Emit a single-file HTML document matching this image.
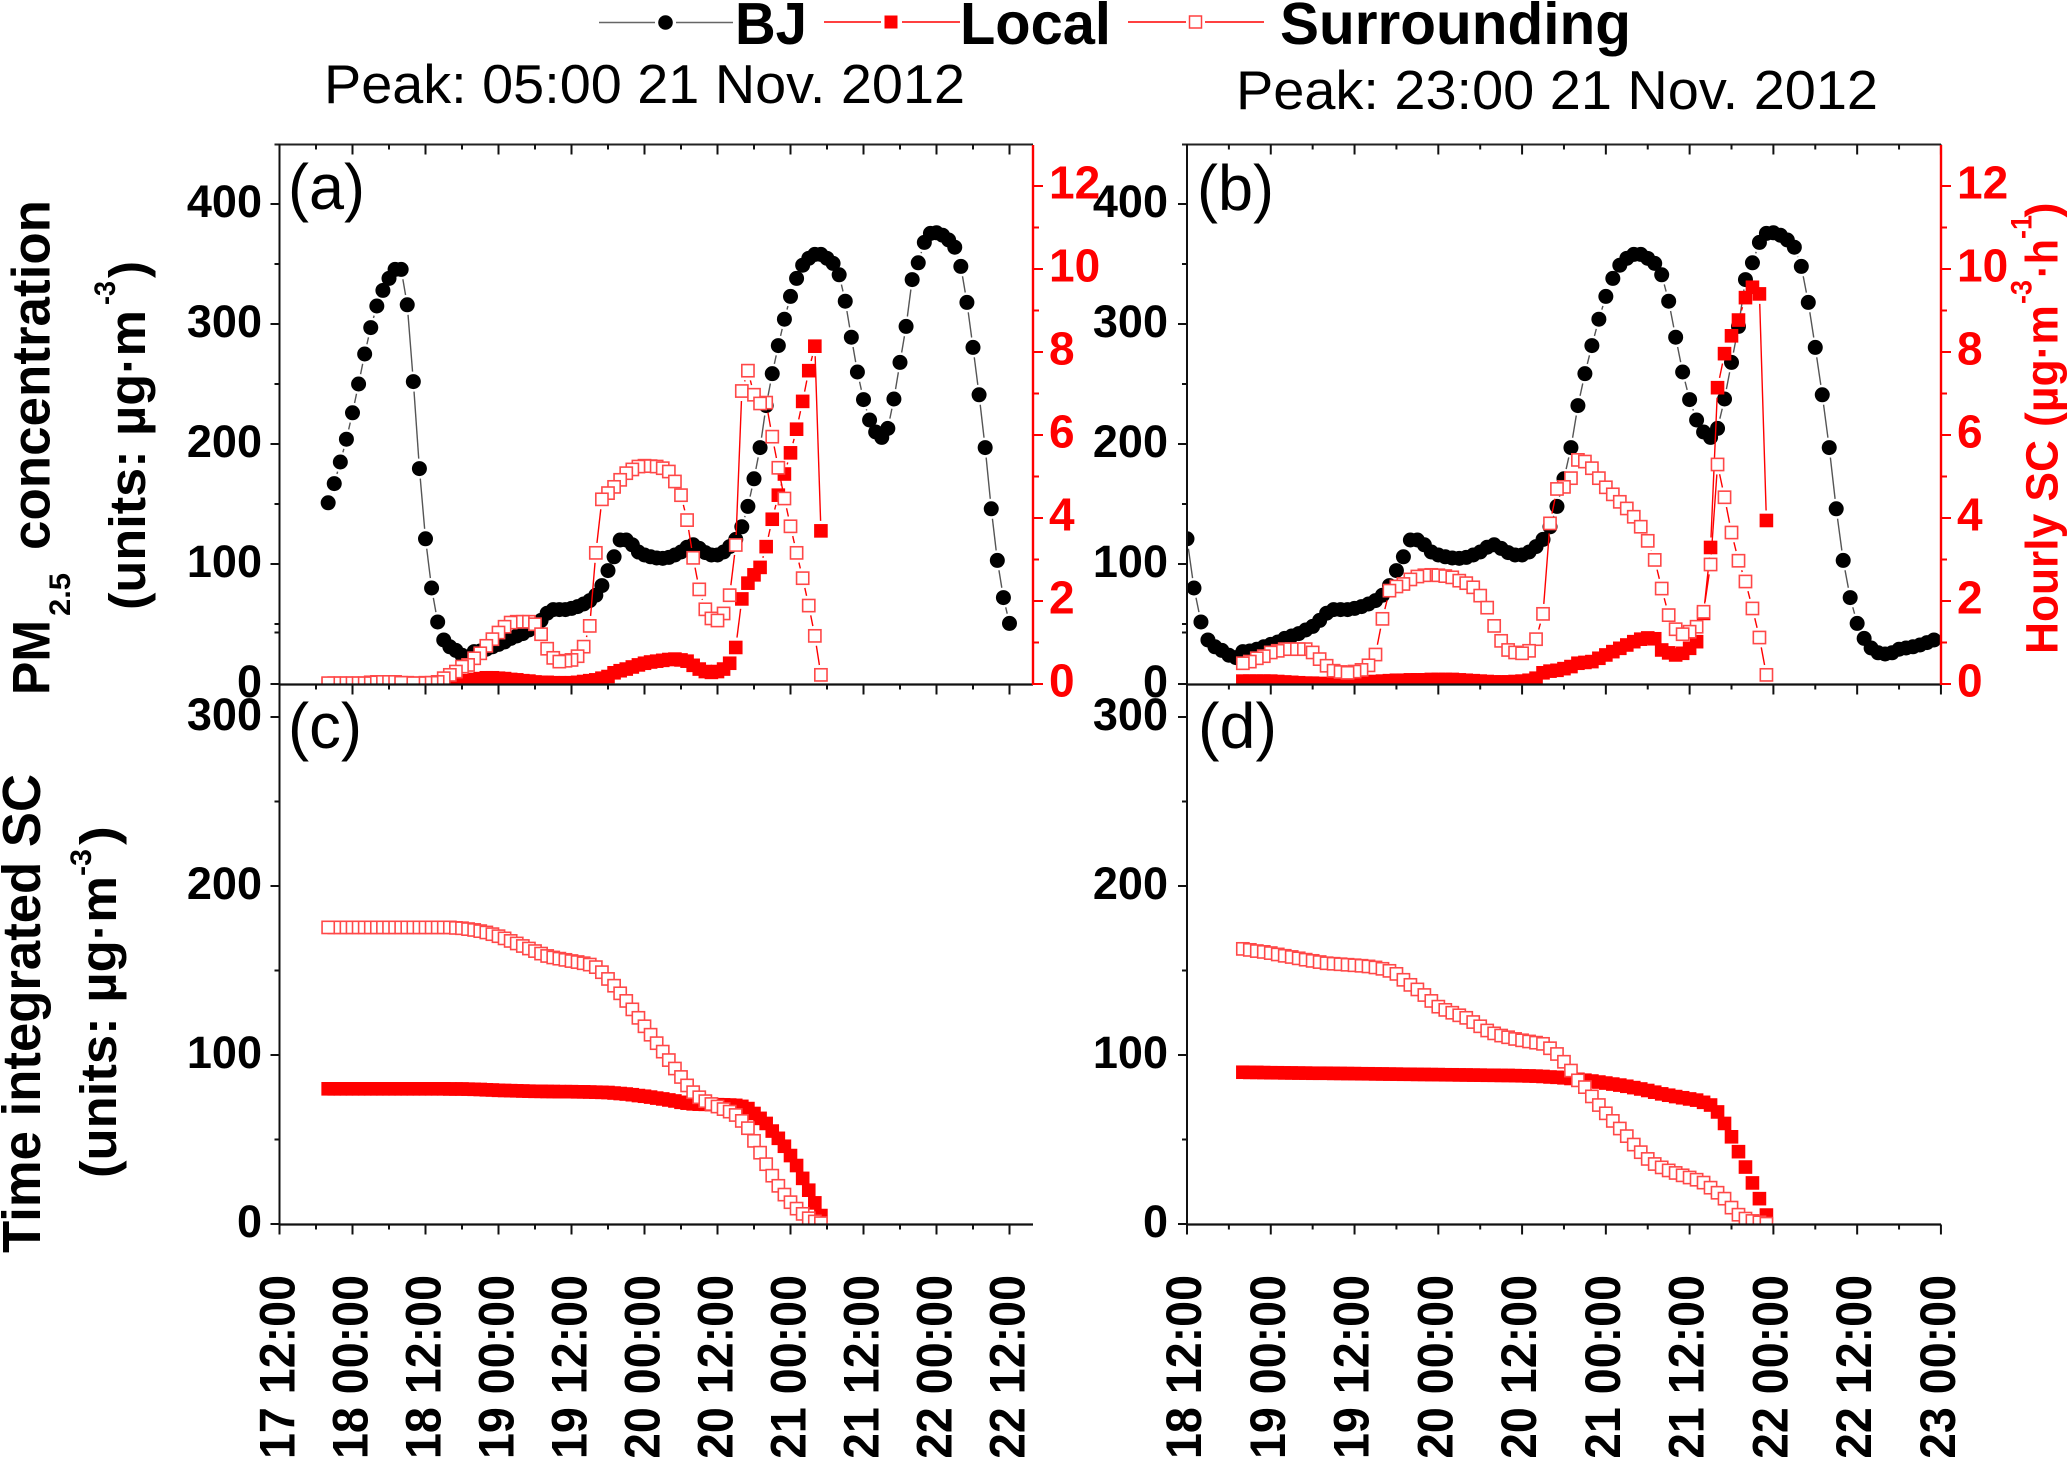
<!DOCTYPE html>
<html lang="en">
<head>
<meta charset="utf-8">
<title>PM2.5 concentration and source contribution</title>
<style>
html,body{margin:0;padding:0;background:#fff;width:2067px;height:1457px;overflow:hidden}
svg{display:block}
text{font-family:"Liberation Sans",Arial,sans-serif}
.b{font-weight:bold}
</style>
</head>
<body>
<svg id="chart" xmlns="http://www.w3.org/2000/svg" width="2067" height="1457" viewBox="0 0 2067 1457">
<defs>
<clipPath id="clip-a"><rect x="279" y="145" width="754" height="539"/></clipPath>
<clipPath id="clip-b"><rect x="1187" y="145" width="754" height="539"/></clipPath>
<clipPath id="clip-c"><rect x="279" y="685" width="754" height="539"/></clipPath>
<clipPath id="clip-d"><rect x="1187" y="685" width="754" height="539"/></clipPath>
</defs>
<rect x="0" y="0" width="2067" height="1457" fill="#fff"/>

<g>
  <g>
    <line x1="599" y1="22.5" x2="655" y2="22.5" stroke="#666" stroke-width="1.6"/>
    <line x1="676" y1="22.5" x2="733" y2="22.5" stroke="#666" stroke-width="1.6"/>
    <circle cx="665.5" cy="22.5" r="7.3" fill="#000"/>
    <text class="b" x="735" y="44" font-size="59" textLength="72" lengthAdjust="spacingAndGlyphs">BJ</text>
  </g>
  <g>
    <line x1="824" y1="22" x2="881" y2="22" stroke="#f00" stroke-width="1.6"/>
    <line x1="902" y1="22" x2="960" y2="22" stroke="#f00" stroke-width="1.6"/>
    <rect x="884.5" y="15.5" width="13" height="13" fill="#f00"/>
    <text class="b" x="960" y="44" font-size="59" textLength="151" lengthAdjust="spacingAndGlyphs">Local</text>
  </g>
  <g>
    <line x1="1128" y1="22" x2="1186" y2="22" stroke="#f00" stroke-width="1.6"/>
    <line x1="1205" y1="22" x2="1264" y2="22" stroke="#f00" stroke-width="1.6"/>
    <rect x="1189.5" y="16" width="12" height="12" fill="#fff" stroke="#ff4040" stroke-width="1.5"/>
    <text class="b" x="1280" y="44" font-size="59" textLength="351" lengthAdjust="spacingAndGlyphs">Surrounding</text>
  </g>
</g>

<text x="324" y="103" font-size="55" textLength="641" lengthAdjust="spacingAndGlyphs">Peak: 05:00 21 Nov. 2012</text>
<text x="1236" y="109" font-size="55" textLength="642" lengthAdjust="spacingAndGlyphs">Peak: 23:00 21 Nov. 2012</text>

<g id="panel-a"></g>
<g id="panel-b"></g>
<g id="panel-c"></g>
<g id="panel-d"></g>

<text x="288" y="209" font-size="64" textLength="77" lengthAdjust="spacingAndGlyphs">(a)</text>
<text x="1197" y="210" font-size="64" textLength="77" lengthAdjust="spacingAndGlyphs">(b)</text>
<text x="288" y="748" font-size="64" textLength="74" lengthAdjust="spacingAndGlyphs">(c)</text>
<text x="1198" y="748" font-size="64" textLength="79" lengthAdjust="spacingAndGlyphs">(d)</text>

<g>
  <text class="b" transform="translate(49.5,695) rotate(-90)" font-size="53" textLength="75" lengthAdjust="spacingAndGlyphs">PM</text>
  <text class="b" transform="translate(70,616) rotate(-90)" font-size="30" textLength="43" lengthAdjust="spacingAndGlyphs">2.5</text>
  <text class="b" transform="translate(49.5,550) rotate(-90)" font-size="54" textLength="350" lengthAdjust="spacingAndGlyphs">concentration</text>
  <text class="b" transform="translate(145,610) rotate(-90)" font-size="51" textLength="300" lengthAdjust="spacingAndGlyphs">(units: µg·m</text>
  <text class="b" transform="translate(115,305) rotate(-90)" font-size="30" textLength="24" lengthAdjust="spacingAndGlyphs">-3</text>
  <text class="b" transform="translate(145,278) rotate(-90)" font-size="51" textLength="17" lengthAdjust="spacingAndGlyphs">)</text>
</g>
<g>
  <text class="b" transform="translate(40,1253) rotate(-90)" font-size="54" textLength="479" lengthAdjust="spacingAndGlyphs">Time integrated SC</text>
  <text class="b" transform="translate(116,1178) rotate(-90)" font-size="51" textLength="302" lengthAdjust="spacingAndGlyphs">(units: µg·m</text>
  <text class="b" transform="translate(91,876) rotate(-90)" font-size="30" textLength="27" lengthAdjust="spacingAndGlyphs">-3</text>
  <text class="b" transform="translate(116,845) rotate(-90)" font-size="51" textLength="19" lengthAdjust="spacingAndGlyphs">)</text>
</g>
<g fill="#f00">
  <text class="b" transform="translate(2057.7,654) rotate(-90)" font-size="45" textLength="214" lengthAdjust="spacingAndGlyphs">Hourly SC</text>
  <text class="b" transform="translate(2057.7,427) rotate(-90)" font-size="45" textLength="122" lengthAdjust="spacingAndGlyphs">(µg·m</text>
  <text class="b" transform="translate(2031.7,304) rotate(-90)" font-size="30" textLength="24" lengthAdjust="spacingAndGlyphs">-3</text>
  <text class="b" transform="translate(2057.7,278) rotate(-90)" font-size="45" textLength="39" lengthAdjust="spacingAndGlyphs">·h</text>
  <text class="b" transform="translate(2031.7,239) rotate(-90)" font-size="30" textLength="24" lengthAdjust="spacingAndGlyphs">-1</text>
  <text class="b" transform="translate(2057.7,217.5) rotate(-90)" font-size="45" textLength="15" lengthAdjust="spacingAndGlyphs">)</text>
</g>
</svg>

<script>
// ---- hours are counted from 17 Nov 12:00 ----
const bjStartHour = 8;
const bjValues = [151,167,185,204,226,250,275,297,315,328,
338,345.5,345.5,316,252,179.5,121,80,51.7,36.7,
31,28,24,22,27,27.5,29,31,33,35,
38,40,42,45,48,53,59,62,62,62,
63,64.5,66.7,69.5,74,82,94.5,106,120,120,
116,110,107.5,106,105,104.7,105.5,107.5,110,114,
116,113,109.5,107.5,107.5,110,114.5,120.5,131,148,
171,197,232,258.6,282,304,323,338,349,354.7,
358,358,354.7,350.5,341,319,289,260,237,220,
210,205.5,213,237.5,268,298,337,351,368,375.5,
376,374,370,364,348,318,280.5,241,197,146,
103,72,50.5,38,30,26,25,26,29,30,
31,32.5,34.5,36.7];

const startHourA = 8;
const hourlyLocalA = [0,0,0,0,0,0,0,0,0,0,0,0,0,0,0,0,0,0,0,0,
.01,.03,.05,.08,.11,.13,.15,.15,.14,.13,.11,.1,.08,.07,.05,.04,.04,.03,.03,.03,
.03,.04,.06,.08,.1,.14,.18,.27,.32,.36,.41,.46,.5,.53,.55,.57,.59,.6,.58,.55,
.45,.36,.3,.28,.3,.36,.5,.88,2.05,2.43,2.63,2.81,3.31,3.97,4.55,5.06,5.57,6.14,6.81,7.55,8.14,3.69];
const hourlySurroundingA = [.02,.02,.02,.02,.02,.02,.02,.04,.05,.05,.05,.05,.03,.03,.02,.02,.03,.03,.05,
.14,.22,.3,.42,.46,.62,.74,.92,1.08,1.24,1.38,1.48,1.5,1.5,1.5,1.44,1.2,.85,.63,.54,.56,.58,.67,.9,1.4,
3.16,4.45,4.6,4.75,4.92,5.08,5.17,5.24,5.26,5.25,5.24,5.2,5.12,4.88,4.55,3.95,3.04,2.28,1.8,1.58,1.53,1.7,2.14,3.35,
7.06,7.55,6.97,6.76,6.78,5.96,5.21,4.47,3.8,3.16,2.55,1.89,1.16,.22];

const startHourB = 32;
const hourlyLocalB = [.07,.07,.07,.07,.07,.06,.05,.04,.03,.02,.02,.01,.01,.02,.02,.02,.03,.04,.05,.06,
.07,.08,.09,.09,.1,.1,.1,.11,.11,.11,.11,.1,.09,.08,.07,.06,.05,.05,.05,.06,
.07,.09,.14,.27,.31,.33,.37,.42,.5,.52,.54,.62,.7,.78,.86,.94,1.02,1.08,1.11,1.09,
.82,.75,.7,.74,.86,1.02,1.7,3.29,7.14,7.96,8.39,8.77,9.31,9.56,9.4,3.94];
const hourlySurroundingB = [.5,.54,.62,.67,.76,.8,.84,.84,.84,.84,.76,.6,.44,.32,.29,.27,.3,.34,.45,.71,
1.57,2.25,2.35,2.41,2.52,2.59,2.62,2.63,2.62,2.6,2.57,2.49,2.43,2.33,2.13,1.84,1.4,1.04,.82,.76,
.74,.8,1.08,1.69,3.87,4.7,4.75,4.96,5.4,5.36,5.2,4.96,4.74,4.57,4.39,4.23,4.03,3.79,3.45,2.99,
2.3,1.66,1.32,1.2,1.26,1.38,1.74,2.88,5.29,4.5,3.65,2.97,2.47,1.82,1.12,.22];

const integratedLocalC = [80,80,80,80,80,80,80,80,80,80,80,80,80,80,80,80,80,80,80,80,
79.9,79.9,79.9,79.8,79.7,79.6,79.4,79.3,79.1,79,78.9,78.8,78.7,78.6,78.5,78.5,78.4,78.4,78.3,78.3,
78.3,78.2,78.2,78.1,78,77.9,77.8,77.5,77.2,76.9,76.5,76,75.6,75.1,74.5,74,73.4,72.8,72,71.5,
71.1,70.9,70.8,70.7,70.6,70.5,70.4,70.2,69.6,68.3,65.4,62.5,59.5,55,50.7,46,40.5,34.6,27,20,12.5,5];
const integratedSurroundingC = [175.5,175.5,175.5,175.5,175.5,175.5,175.5,175.5,175.5,175.5,175.5,175.5,175.5,175.5,175.5,175.5,175.5,175.5,175.5,175.5,175.5,
175.2,175,174.5,174,173.3,172.5,171.5,170.3,169,167.5,166,164.5,163,161.5,160,158.6,157.7,157,156.3,
155.6,155,154.3,153.5,152,149,145,141,136.5,132,127,122,117,112,107,102,97,92,87,82,
78,75,72.7,71,69.5,68,66.5,64.5,61,56.7,49.2,42.2,35.4,28.6,22.6,17.4,12.9,9.1,6,3.4,1.5,.5];

const integratedLocalD = [89.8,89.7,89.7,89.6,89.5,89.5,89.4,89.4,89.3,
89.3,89.2,89.2,89.2,89.1,89.1,89,89,88.9,88.9,88.8,88.8,88.7,88.7,88.6,88.6,88.5,88.5,88.4,88.4,
88.3,88.3,88.2,88.2,88.1,88.1,88,88,87.9,87.9,87.8,87.7,87.6,87.5,87.3,
87,86.8,86.5,86.1,85.6,85.1,84.6,84,83.4,82.8,82.2,81.5,80.7,79.9,79,78,77,76.2,75.4,74.7,74,73.3,72,70.4,66.3,59.5,51.6,42.8,33.7,24.3,15,5.3];
const integratedSurroundingD = [162.8,162.2,161.5,161,160.3,159.5,158.7,158,157.2,156.4,155.7,155,154.3,154,153.7,153.4,153.1,152.8,152.4,151.8,151,149.8,148,
144.5,141.5,138.8,135.5,132,128.6,126.7,125,123.5,122,119.5,117,114.5,112.8,111.5,110.5,109.5,108.7,108,107.3,106.6,
104,100.6,96,90.8,85,81,75.5,70.4,65.5,61,56.5,52,47,42.5,38.5,35.5,33.5,31.7,30.2,28.8,27.5,26.2,24.5,21.5,18.5,15,9.7,5.5,3.2,1.8,1,.2];

const timeLabelsLeft = ["17 12:00","18 00:00","18 12:00","19 00:00","19 12:00","20 00:00","20 12:00","21 00:00","21 12:00","22 00:00","22 12:00"];
const timeLabelsRight = ["18 12:00","19 00:00","19 12:00","20 00:00","20 12:00","21 00:00","21 12:00","22 00:00","22 12:00","23 00:00"];
const pmTicks = [0,100,200,300,400];
const hourlyScTicks = [0,2,4,6,8,10,12];
const integratedTicks = [0,100,200,300];

// ---- scales ----
const xLeft  = h => 279.5 + h * 73 / 12;
const xRight = h => 1187 + (h - 24) * 83.77 / 12;
const yPm    = v => 684 - v * 1.2;
const ySc    = v => 684 - v * 41.5;
const yInt   = v => 1224 - v * 1.69;

const NS = "http://www.w3.org/2000/svg";
function make(tag, attrs, parent, text) {
  const el = document.createElementNS(NS, tag);
  for (const k in attrs) el.setAttribute(k, attrs[k]);
  if (text !== undefined) el.textContent = text;
  parent.appendChild(el);
  return el;
}

// line broken around each marker, as in the original plot
function drawLine(g, pts, color, name) {
  const gap = 10;
  for (let i = 1; i < pts.length; i++) {
    const a = pts[i - 1], b = pts[i];
    const d = Math.hypot(b.x - a.x, b.y - a.y);
    if (d <= gap * 2) continue;
    const ux = (b.x - a.x) / d, uy = (b.y - a.y) / d;
    const seg = make("line", {x1: a.x + ux * gap, y1: a.y + uy * gap, x2: b.x - ux * gap, y2: b.y - uy * gap, stroke: color, "stroke-width": 1.4}, g);
    
    
  }
}

function drawBj(parent, clip, x, firstHour, lastHour) {
  const g = make("g", {"clip-path": "url(#" + clip + ")"}, parent);
  
  
  const pts = [];
  bjValues.forEach((v, i) => {
    const h = bjStartHour + i;
    if (h >= firstHour && h <= lastHour) pts.push({x: x(h), y: yPm(v)});
  });
  drawLine(g, pts, "#555", "bj");
  pts.forEach(p => {
    const m = make("circle", {cx: p.x, cy: p.y, r: 7.5, fill: "#000"}, g);
    
    
  });
}

function drawSquares(parent, clip, x, y, startHour, values, open) {
  const label = open ? 'surrounding' : 'local';
  const g = make("g", {"clip-path": "url(#" + clip + ")"}, parent);
  
  
  const pts = values.map((v, i) => ({x: x(startHour + i), y: y(v), v: v, i: i}));
  drawLine(g, pts, "#f00", label);
  const order = open ? pts.slice().sort((a, b) => (b.v - a.v) || (b.i - a.i)) : pts;
  order.forEach(p => {
    const s = open ? 12.2 : 13.6;
    const attrs = {x: p.x - s / 2, y: p.y - s / 2, width: s, height: s};
    if (open) { attrs.fill = "#fff"; attrs.stroke = "#ff4848"; attrs["stroke-width"] = 1.6; }
    else { attrs.fill = "#f00"; }
    const m = make("rect", attrs, g);
    
    
  });
}

function hLine(g, x1, x2, y, color, w, name) {
  const l = make("line", {x1: x1, x2: x2, y1: y, y2: y, stroke: color, "stroke-width": w}, g);
  
  
}
function vLine(g, x, y1, y2, color, w, name) {
  const l = make("line", {x1: x, x2: x, y1: y1, y2: y2, stroke: color, "stroke-width": w}, g);
  
  
}

function drawXTicks(g, x, firstHour, lastHour, y, dir, name) {
  for (let h = firstHour; h <= lastHour; h += 6) {
    const major = (h - firstHour) % 12 === 0;
    vLine(g, x(h), y, y + dir * (major ? 10 : 5), "#111", 2, name);
  }
}

function drawLeftTicks(g, axisX, y, ticks, labelRight) {
  ticks.forEach((v, i) => {
    hLine(g, axisX - 9, axisX, y(v), "#111", 2, 'y-major-tick');
    if (i < ticks.length - 1 || v === 300) {
      const mid = v + 50;
      hLine(g, axisX - 5, axisX, y(mid), "#111", 2, 'y-minor-tick');
    }
    const t = make("text", {x: labelRight, y: y(v) + 13, "text-anchor": "end", "font-size": 45, "font-weight": "bold", fill: "#000"}, g, String(v));
    
    
  });
}

function drawRightAxis(g, axisX, labelLeft) {
  vLine(g, axisX, 145, 685, "#f00", 2.4, 'right-axis-line');
  hourlyScTicks.forEach((v, i) => {
    hLine(g, axisX, axisX + 10, ySc(v), "#f00", 2, 'right-major-tick');
    if (i < hourlyScTicks.length - 1) hLine(g, axisX, axisX + 6, ySc(v + 1), "#f00", 2, 'right-minor-tick');
    const t = make("text", {x: labelLeft, y: ySc(v) + 12.5, "font-size": 46, "font-weight": "bold", fill: "#f00"}, g, String(v));
    
    
  });
}

function drawPanelTop(id, clip, x, firstHour, lastHour, axL, axR, startHour, localVals, surrVals, bjLast, labelRight, rightLabelLeft) {
  const g = document.getElementById(id);
  drawBj(g, clip, x, firstHour, bjLast);
  drawSquares(g, clip, x, ySc, startHour, localVals, false);
  drawSquares(g, clip, x, ySc, startHour, surrVals, true);
  hLine(g, axL - 5, axR, 144.5, "#222", 2, 'top-axis-line');
  hLine(g, axL, axR, 684.5, "#111", 2.2, 'bottom-axis-line');
  vLine(g, axL, 144, 685, "#111", 2, 'left-axis-line');
  drawXTicks(g, x, firstHour, lastHour, 144.5, 1, 'top-axis-tick');
  drawXTicks(g, x, firstHour, lastHour, 684.5, 1, 'bottom-axis-tick');
  drawLeftTicks(g, axL, yPm, pmTicks, labelRight);
  drawRightAxis(g, axR, rightLabelLeft);
}

function drawPanelBottom(id, clip, x, firstHour, lastHour, axL, axR, startHour, localVals, surrVals, labels, labelRight, labelOffset) {
  const g = document.getElementById(id);
  drawSquares(g, clip, x, yInt, startHour, localVals, false);
  drawSquares(g, clip, x, yInt, startHour, surrVals, true);
  hLine(g, axL, axR, 1224.5, "#111", 2.2, 'bottom-axis-line');
  vLine(g, axL, 685, 1225, "#111", 2, 'left-axis-line');
  drawXTicks(g, x, firstHour, lastHour, 1224.5, 1, 'bottom-axis-tick');
  drawLeftTicks(g, axL, yInt, integratedTicks, labelRight);
  labels.forEach((txt, i) => {
    const px = x(firstHour + i * 12) + labelOffset;
    const t = make("text", {transform: "translate(" + px + ",1275) rotate(-90)", "text-anchor": "end", "font-size": 50, "font-weight": "bold", fill: "#000", textLength: 184, lengthAdjust: "spacingAndGlyphs"}, g, txt);
    
    
  });
}

drawPanelTop("panel-a", "clip-a", xLeft, 0, 120, 279.5, 1033, startHourA, hourlyLocalA, hourlySurroundingA, 120, 262, 1049);
drawPanelTop("panel-b", "clip-b", xRight, 24, 132, 1187, 1941, startHourB, hourlyLocalB, hourlySurroundingB, 131, 1168, 1957);
drawPanelBottom("panel-c", "clip-c", xLeft, 0, 120, 279.5, 1033, startHourA, integratedLocalC, integratedSurroundingC, timeLabelsLeft, 262, 15);
drawPanelBottom("panel-d", "clip-d", xRight, 24, 132, 1187, 1941, startHourB, integratedLocalD, integratedSurroundingD, timeLabelsRight, 1168, 14);
</script>
</body>
</html>
